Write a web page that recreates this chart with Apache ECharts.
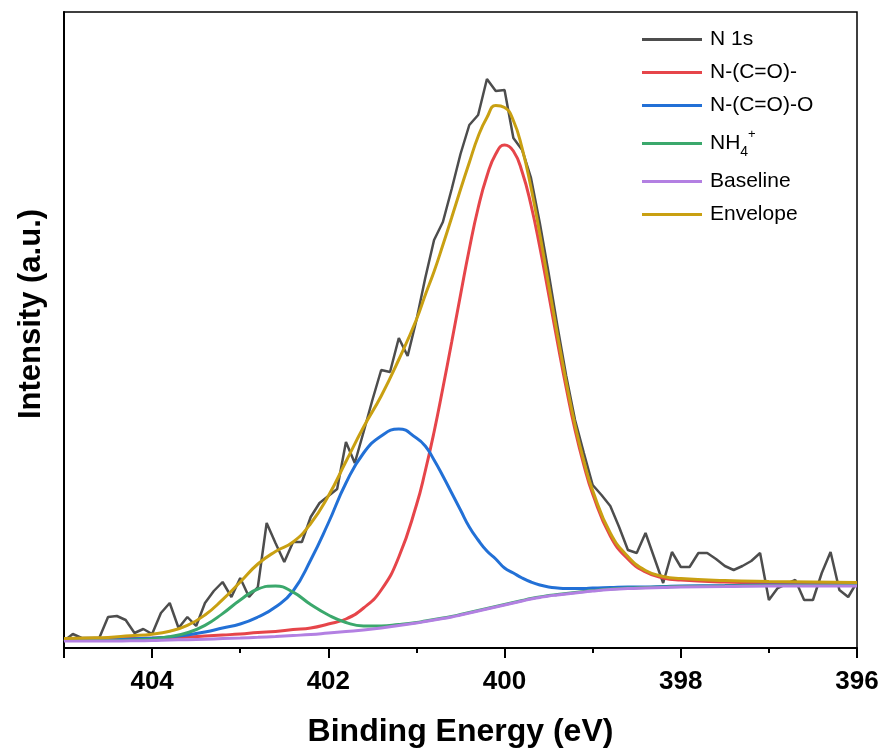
<!DOCTYPE html>
<html>
<head>
<meta charset="utf-8">
<title>N 1s XPS</title>
<script src="https://cdn.jsdelivr.net/npm/echarts@6/dist/echarts.min.js"></script>
<style>
  html, body { margin: 0; padding: 0; background: #fff; }
  #chart { width: 883px; height: 750px; }
</style>
</head>
<body>
<div id="chart"></div>
<script>
/**
 * Measured spectrum (binding energy, eV)
 */
const energyRaw = [
  405.0, 404.9, 404.8, 404.7, 404.6, 404.5, 404.4, 404.3, 404.2, 404.1,
  404.0, 403.9, 403.8, 403.7, 403.6, 403.5, 403.4, 403.3, 403.2, 403.1,
  403.0, 402.9, 402.8, 402.7, 402.6, 402.5, 402.4, 402.3, 402.2, 402.1,
  402.0, 401.9, 401.8, 401.7, 401.6, 401.5, 401.4, 401.3, 401.2, 401.1,
  401.0, 400.9, 400.8, 400.7, 400.6, 400.5, 400.4, 400.3, 400.2, 400.1,
  400.0, 399.9, 399.8, 399.7, 399.6, 399.5, 399.4, 399.3, 399.2, 399.1,
  399.0, 398.9, 398.8, 398.7, 398.6, 398.5, 398.4, 398.3, 398.2, 398.1,
  398.0, 397.9, 397.8, 397.7, 397.6, 397.5, 397.4, 397.3, 397.2, 397.1,
  397.0, 396.9, 396.8, 396.7, 396.6, 396.5, 396.4, 396.3, 396.2, 396.1,
  396.0
];
const n1s = [
  7, 14, 10, 10, 10, 31, 32, 28, 15, 19,
  14, 35, 45, 20, 31, 22, 45, 57, 66, 51,
  70, 51, 61, 125, 105, 86, 106, 106, 131, 145,
  152, 159, 206, 185, 216, 248, 278, 276, 310, 292,
  328, 370, 408, 426, 459, 494, 523, 533, 569, 557,
  558, 510, 498, 470, 425, 375, 322, 272, 228, 195,
  163, 153, 142, 121, 98, 95, 115, 90, 65, 96,
  81, 81, 95, 95, 89, 82, 78, 82, 87, 95,
  48, 60, 64, 68, 48, 48, 75, 96, 58, 51,
  66
];

/**
 * Fitted curves, sampled on one energy grid
 */
const energyFit = [
  405, 404.75, 404.5, 404.25, 404, 403.8, 403.6, 403.4, 403.2, 403,
  402.8, 402.6, 402.4, 402.2, 402, 401.8, 401.6, 401.4, 401.2, 401,
  400.9, 400.8, 400.7, 400.6, 400.5, 400.4, 400.3, 400.2, 400.1, 400,
  399.9, 399.8, 399.7, 399.6, 399.5, 399.4, 399.3, 399.2, 399.1, 399,
  398.8, 398.6, 398.4, 398.2, 398, 397.5, 397, 396.5, 396
];
const amide = [
  8.5, 8.8, 9, 9.5, 9.8, 10.5, 11, 12, 13, 14,
  15.5, 16.5, 18.5, 20, 24, 29, 40, 58, 91, 143,
  177, 216, 260, 306, 353, 399, 440, 472, 494, 503,
  497, 476, 443, 401, 354, 306, 260, 218, 183, 154,
  112, 89, 76, 70, 68, 66, 65, 64.5, 64
];
const carbamate = [
  7.5, 7.7, 8, 9, 10, 11, 13, 16, 20, 24,
  31, 41, 57, 88, 125, 165, 195, 212, 219, 210,
  202, 188, 172, 155, 138, 121, 108, 97, 89, 80,
  75, 70, 66, 63, 61, 60, 59.5, 59.5, 59.5, 60,
  60.5, 61, 61, 61.5, 62, 62.5, 63, 63, 63
];
const ammonium = [
  7.5, 7.5, 7.5, 8, 9, 11.3, 15.2, 22.6, 34.4, 48,
  59, 62, 55.8, 43.5, 33, 25.5, 22, 22, 23.5, 25.5,
  27, 28.5, 30, 31.5, 33.5, 35.5, 37.5, 39.5, 41.5, 43.5,
  45.5, 47.5, 49.5, 51, 52.5, 53.5, 54.5, 55.5, 56.5, 57.5,
  59, 60, 60.5, 61, 61.5, 62, 62.5, 62.5, 62.5
];
const baseline = [
  7, 7, 7, 7.2, 7.5, 8, 8.3, 8.8, 9.4, 10,
  10.7, 11.5, 12.5, 13.5, 15, 16.5, 18, 20, 22.5, 25,
  26.5, 28, 29.5, 31, 33, 35, 37, 39, 41, 43,
  45, 47, 49, 50.5, 52, 53, 54, 55, 56, 57,
  58.5, 59.5, 60, 60.5, 61, 61.5, 62, 62, 62
];
const envelope = [
  9.5, 10, 10.5, 12.2, 13.8, 16.8, 22.6, 33, 48.4, 66,
  84, 96.5, 106, 124.5, 152, 186.5, 221, 252, 288.5, 328.5,
  353, 376.5, 403, 430.5, 458.5, 485.5, 511.5, 530.5, 542.5, 540.5,
  527.5, 499.5, 460.5, 414, 363.5, 313.5, 266, 223, 187, 157.5,
  115, 91.5, 77.5, 71.5, 69.5, 67.5, 66.5, 66, 65.5
];

const FONT = 'Liberation Sans, Arial, sans-serif';

const pairs = (xs, ys) => xs.map((x, i) => [x, ys[i]]);

const fitLine = (name, values, color) => ({
  name,
  type: 'line',
  data: pairs(energyFit, values),
  smooth: 0.5,
  showSymbol: false,
  lineStyle: { color, width: 3 },
  itemStyle: { color },
});

const chart = echarts.init(document.getElementById('chart'));

chart.setOption({
  animation: false,
  backgroundColor: '#fff',
  grid: {
    left: 64,
    right: 26,
    top: 12,
    bottom: 102,
    outerBoundsMode: 'none',
    show: true,
    borderColor: '#000',
    borderWidth: 1.5,
  },
  legend: {
    orient: 'vertical',
    left: 642,
    top: 29,
    padding: 0,
    icon: 'rect',
    itemWidth: 60,
    itemHeight: 3,
    itemGap: 12,
    textStyle: {
      fontFamily: FONT,
      fontSize: 21,
      color: '#000',
      padding: [0, 0, 0, 3],
      rich: {
        b: { fontFamily: FONT, fontSize: 21, color: '#000', lineHeight: 31, verticalAlign: 'middle' },
        s: { fontFamily: FONT, fontSize: 14, color: '#000', lineHeight: 31, verticalAlign: 'bottom' },
        p: { fontFamily: FONT, fontSize: 13, color: '#000', lineHeight: 31, verticalAlign: 'top' },
      },
    },
    formatter: (name) => (name === 'NH4+' ? '{b|NH}{s|4}{p|+}' : name),
  },
  xAxis: {
    type: 'value',
    inverse: true,
    min: 396,
    max: 405,
    interval: 2,
    name: 'Binding Energy (eV)',
    nameLocation: 'middle',
    nameGap: 68,
    nameTextStyle: { fontFamily: FONT, fontSize: 32, fontWeight: 'bold', color: '#000' },
    axisLine: { lineStyle: { color: '#000', width: 2 } },
    axisTick: { inside: false, length: 10, lineStyle: { color: '#000', width: 2 } },
    minorTick: { show: true, splitNumber: 2, length: 5, lineStyle: { color: '#000', width: 2 } },
    axisLabel: {
      margin: 21,
      showMaxLabel: false,
      fontFamily: FONT,
      fontSize: 26,
      fontWeight: 'bold',
      color: '#000',
    },
    splitLine: { show: false },
  },
  yAxis: {
    type: 'value',
    min: 0,
    max: 636,
    name: 'Intensity (a.u.)',
    nameLocation: 'middle',
    nameGap: 17,
    nameTextStyle: {
      fontFamily: FONT,
      fontSize: 31,
      fontWeight: 'bold',
      color: '#000',
      padding: [0, 0, 0, 32],
    },
    axisLine: { show: true, lineStyle: { color: '#000', width: 2 } },
    axisTick: { show: false },
    axisLabel: { show: false },
    splitLine: { show: false },
  },
  series: [
    {
      name: 'N 1s',
      type: 'line',
      data: pairs(energyRaw, n1s),
      showSymbol: false,
      lineStyle: { color: '#4d4d4d', width: 2.5 },
      itemStyle: { color: '#4d4d4d' },
    },
    fitLine('N-(C=O)-', amide, '#e6454a'),
    fitLine('N-(C=O)-O', carbamate, '#2270d6'),
    fitLine('NH4+', ammonium, '#3ba86c'),
    fitLine('Baseline', baseline, '#b380e2'),
    fitLine('Envelope', envelope, '#c9a012'),
  ],
});
</script>
</body>
</html>
